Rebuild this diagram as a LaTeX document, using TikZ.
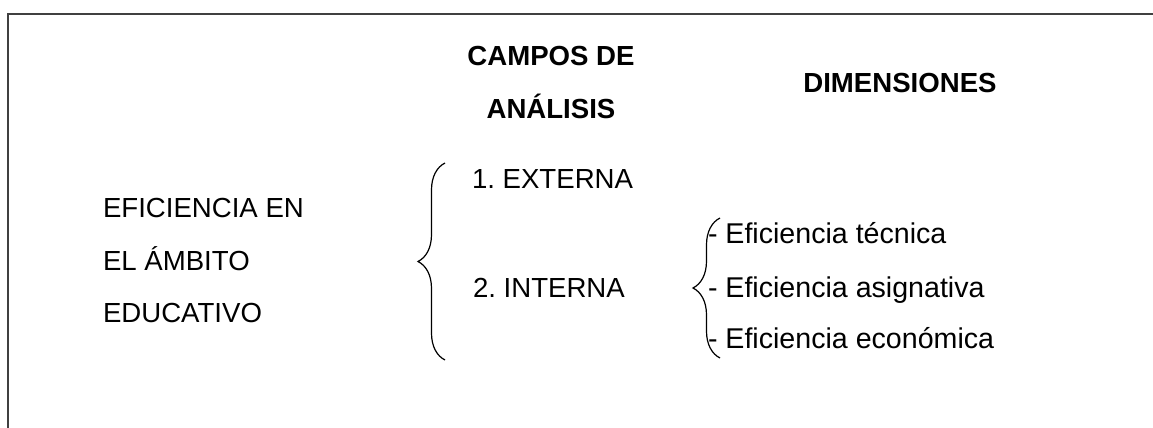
\documentclass[tikz,border=0pt]{standalone}
\usepackage{fontspec}
\setmainfont{Liberation Sans}
\frenchspacing
\usetikzlibrary{positioning, decorations.pathreplacing}
\tikzset{txt/.style={inner sep=0pt, outer sep=0pt, font=\fontsize{13.8}{16}\selectfont}}
\tikzset{dtxt/.style={txt, font=\fontsize{14.3}{16}\selectfont}}
\tikzset{hdr/.style={txt, font=\fontsize{13.8}{16}\selectfont\bfseries}}
\tikzset{brc/.style={draw, line width=0.6pt, decorate, decoration={brace, amplitude=13.5pt}}}
\tikzset{frame/.style={draw=black!75, line width=1pt}}

\begin{document}
\begin{tikzpicture}[x=0.5pt, y=-0.5pt]
    \useasboundingbox (0,0) rectangle (1153,428);
    \draw[frame] (8,428) -- (8,14) -- (1153,14);
    % headers
    \node[hdr, anchor=base] (campos) at (551,65) {CAMPOS DE};
    \node[hdr, anchor=base] (analisis) at (551,118) {ANÁLISIS};
    \node[hdr, anchor=base] (dim) at (900,92) {DIMENSIONES};
    % concept
    \node[txt, anchor=base west] (efi1) at (103,217) {EFICIENCIA EN};
    \node[txt, anchor=base west] (efi2) at (103,270) {EL ÁMBITO};
    \node[txt, anchor=base west] (efi3) at (103,322) {EDUCATIVO};
    % fields
    \coordinate (campotop) at (445,163);
    \coordinate (campobot) at (445,360);
    \draw[brc] (campobot) -- (campotop);
    \node[txt, anchor=base west] (ext) at (472,188) {1. EXTERNA};
    \node[txt, anchor=base west] (int) at (473,297) {2. INTERNA};
    % dimensions
    \coordinate (dimtop) at (720,218);
    \coordinate (dimbot) at (720,358);
    \draw[brc] (dimbot) -- (dimtop);
    \node[dtxt, anchor=base west] (tec) at (708,243) {- Eficiencia técnica};
    \node[dtxt, anchor=base west] (asig) at (708,297) {- Eficiencia asignativa};
    \node[dtxt, anchor=base west] (eco) at (708,348) {- Eficiencia económica};
\end{tikzpicture}
\end{document}
